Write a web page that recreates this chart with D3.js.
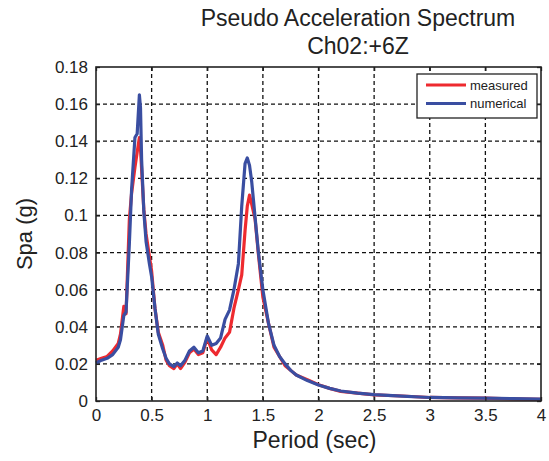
<!DOCTYPE html>
<html>
<head>
<meta charset="utf-8">
<title>Pseudo Acceleration Spectrum</title>
<style>
    body { margin: 0; background: #fff; }
    text { font-family: "Liberation Sans", Arial, sans-serif; fill: #222; }
    .grid line { stroke: #111; stroke-width: 1.3; stroke-dasharray: 4 3; }
</style>
<script src="https://cdn.jsdelivr.net/npm/d3@7"></script>
</head>
<body>
<script>
// data
var period = [0, 0.05, 0.1, 0.15, 0.2, 0.22, 0.25, 0.27, 0.3, 0.32, 0.35, 0.37, 0.39, 0.4, 0.41, 0.43, 0.45, 0.48, 0.5,
    0.53, 0.56, 0.6, 0.63, 0.66, 0.7, 0.73, 0.76, 0.8, 0.84, 0.88, 0.92, 0.96, 1.0, 1.04, 1.08, 1.12, 1.16, 1.2,
    1.24, 1.28, 1.31, 1.34, 1.36, 1.38, 1.4, 1.43, 1.46, 1.5, 1.55, 1.6, 1.65, 1.7, 1.75, 1.8, 1.9, 2.0, 2.1, 2.2,
    2.35, 2.5, 2.75, 3.0, 3.25, 3.5, 3.75, 4.0];
var measured = [0.022, 0.023, 0.024, 0.027, 0.031, 0.036, 0.051, 0.047, 0.098, 0.112, 0.126, 0.134, 0.142, 0.136,
    0.125, 0.103, 0.090, 0.078, 0.070, 0.050, 0.037, 0.030, 0.022, 0.019, 0.0175, 0.020, 0.0175, 0.021, 0.026,
    0.028, 0.025, 0.026, 0.034, 0.0275, 0.025, 0.029, 0.034, 0.037, 0.050, 0.060, 0.068, 0.092, 0.105, 0.111,
    0.106, 0.098, 0.079, 0.056, 0.042, 0.029, 0.024, 0.019, 0.0165, 0.014, 0.0115, 0.0088, 0.0068, 0.0052,
    0.0042, 0.0033, 0.0027, 0.0019, 0.0017, 0.0015, 0.0011, 0.0009];
var numerical = [0.0205, 0.022, 0.023, 0.025, 0.029, 0.033, 0.046, 0.048, 0.085, 0.114, 0.142, 0.144, 0.165, 0.158,
    0.130, 0.102, 0.086, 0.074, 0.067, 0.050, 0.036, 0.028, 0.023, 0.020, 0.0185, 0.0205, 0.019, 0.022, 0.027,
    0.029, 0.026, 0.027, 0.035, 0.030, 0.031, 0.034, 0.044, 0.049, 0.060, 0.074, 0.105, 0.128, 0.131, 0.127,
    0.118, 0.099, 0.080, 0.060, 0.042, 0.030, 0.024, 0.020, 0.0165, 0.014, 0.011, 0.0086, 0.0068, 0.0054,
    0.0042, 0.0034, 0.0026, 0.0019, 0.0017, 0.0016, 0.0013, 0.0010];
var seriesNames = ["measured", "numerical"];
var seriesColors = ["#ee2a2f", "#3a4ea1"];
var xTicks = [0, 0.5, 1, 1.5, 2, 2.5, 3, 3.5, 4];
var yTicks = [0, 0.02, 0.04, 0.06, 0.08, 0.1, 0.12, 0.14, 0.16, 0.18];

var margin = { top: 67, right: 8, bottom: 60, left: 96 },
    width = 549 - margin.left - margin.right,
    height = 461 - margin.top - margin.bottom;

var x = d3.scaleLinear().domain([0, 4]).range([0, width]);
var y = d3.scaleLinear().domain([0, 0.18]).range([height, 0]);

var svgRoot = d3.select("body").append("svg")
    .attr("width", 549)
    .attr("height", 461);

// title
svgRoot.append("text").attr("x", 358).attr("y", 26).attr("text-anchor", "middle")
    .style("font-size", "23px").text("Pseudo Acceleration Spectrum");
svgRoot.append("text").attr("x", 358).attr("y", 54).attr("text-anchor", "middle")
    .style("font-size", "23px").text("Ch02:+6Z");

var svg = svgRoot.append("g")
    .attr("transform", "translate(" + margin.left + "," + margin.top + ")");

// grid
var grid = svg.append("g").attr("class", "grid");
grid.selectAll(".vx").data(xTicks.slice(1, -1)).enter().append("line")
    .attr("x1", function(d) { return x(d); }).attr("x2", function(d) { return x(d); })
    .attr("y1", 0).attr("y2", height);
grid.selectAll(".hy").data(yTicks.slice(1, -1)).enter().append("line")
    .attr("x1", 0).attr("x2", width)
    .attr("y1", function(d) { return y(d); }).attr("y2", function(d) { return y(d); });

// lines
var line = d3.line()
    .x(function(d) { return x(d[0]); })
    .y(function(d) { return y(d[1]); });
[measured, numerical].forEach(function(vals, i) {
    svg.append("path")
        .datum(period.map(function(p, j) { return [p, vals[j]]; }))
        .attr("fill", "none")
        .attr("stroke", seriesColors[i])
        .attr("stroke-width", 3.2)
        .attr("stroke-linejoin", "round")
        .attr("d", line);
});

// axes with inward ticks
function styleAxis(g) {
    g.select(".domain").remove();
    g.selectAll(".tick line").attr("stroke", "#222").attr("stroke-width", 1.3);
    g.selectAll(".tick text").style("font-size", "17px").attr("fill", "#222");
}
svg.append("g").attr("transform", "translate(0," + height + ")")
    .call(d3.axisBottom(x).tickValues(xTicks).tickSize(-4).tickPadding(8).tickFormat(d3.format("")))
    .call(styleAxis);
svg.append("g")
    .call(d3.axisLeft(y).tickValues(yTicks).tickSize(-4).tickPadding(8).tickFormat(function(d) { return d === 0 ? "0" : d3.format("")(+d.toFixed(2)); }))
    .call(styleAxis);
svg.append("g")
    .call(d3.axisTop(x).tickValues(xTicks).tickSize(-4).tickFormat(""))
    .call(styleAxis);
svg.append("g").attr("transform", "translate(" + width + ",0)")
    .call(d3.axisRight(y).tickValues(yTicks).tickSize(-4).tickFormat(""))
    .call(styleAxis);

// frame
svg.append("rect").attr("width", width).attr("height", height)
    .attr("fill", "none").attr("stroke", "#222").attr("stroke-width", 1.6);

// axis labels
svg.append("text").attr("x", width / 2 - 4).attr("y", height + 47).attr("text-anchor", "middle")
    .style("font-size", "23px").text("Period (sec)");
svg.append("text").attr("transform", "translate(-64," + (height / 2) + ") rotate(-90)")
    .attr("text-anchor", "middle").style("font-size", "22px").text("Spa (g)");

// legend
var legend = svg.append("g").attr("transform", "translate(" + (x(0) + 321) + ",7)");
legend.append("rect").attr("width", 120).attr("height", 44)
    .attr("fill", "#fff").attr("stroke", "#222").attr("stroke-width", 1.3);
seriesNames.forEach(function(name, i) {
    var yy = 11 + i * 18.5;
    legend.append("line").attr("x1", 9).attr("x2", 49).attr("y1", yy).attr("y2", yy)
        .attr("stroke", seriesColors[i]).attr("stroke-width", 3.2);
    legend.append("text").attr("x", 53).attr("y", yy + 4.5).style("font-size", "13px").text(name);
});
</script>
</body>
</html>
